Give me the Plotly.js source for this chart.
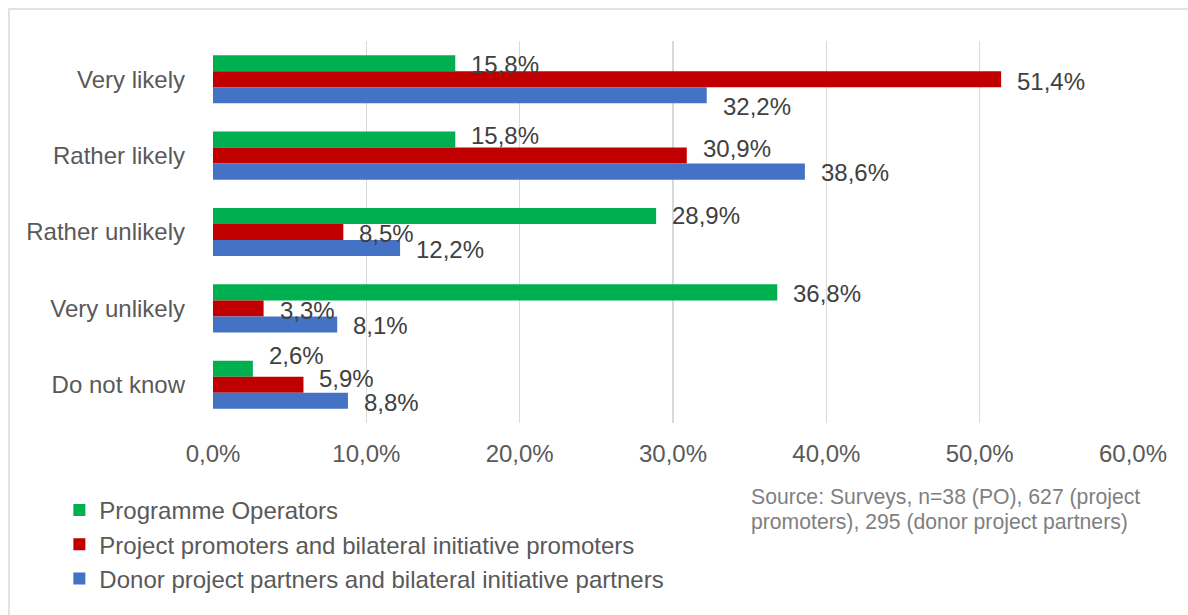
<!DOCTYPE html>
<html>
<head>
<meta charset="utf-8">
<script src="https://cdn.plot.ly/plotly-3.0.1.min.js"></script>
<style>html,body{margin:0;padding:0;background:#fff;}#chart{width:1188px;height:615px;}</style>
</head>
<body>
<div id="chart"></div>
<script>
const categories = ["Very likely", "Rather likely", "Rather unlikely", "Very unlikely", "Do not know"];
const seriesNames = [
  "Programme Operators",
  "Project promoters and bilateral initiative promoters",
  "Donor project partners and bilateral initiative partners"
];
const programmeOperators = [15.8, 15.8, 28.9, 36.8, 2.6];
const projectPromoters = [51.4, 30.9, 8.5, 3.3, 5.9];
const donorPartners = [32.2, 38.6, 12.2, 8.1, 8.8];
const xTicks = [0, 10, 20, 30, 40, 50, 60];
const xTickLabels = ["0,0%", "10,0%", "20,0%", "30,0%", "40,0%", "50,0%", "60,0%"];
const sourceLines = ["Source: Surveys, n=38 (PO), 627 (project", "promoters), 295 (donor project partners)"];

// style: colours and small vertical nudges (px, positive = down) of the value labels
const colors = ["#00b050", "#c00000", "#4472c4"];
const labelNudge = [[1, -4, 0, 1, -13], [2, -7, 1, 2, -6], [11, 1, 1, 1, 2]];
const FONT = "Liberation Sans, Arial, sans-serif";
const BARGAP = 0.37;
const seriesValues = [programmeOperators, projectPromoters, donorPartners];
const fmt = v => v.toFixed(1).replace(".", ",") + "%";

const traces = seriesValues.map((vals, i) => ({
  type: "bar",
  orientation: "h",
  name: seriesNames[i],
  y: categories,
  x: vals,
  marker: {color: colors[i]},
  hoverinfo: "skip"
}));

// value labels placed at each bar end through the axes (category index + group offset)
const nS = seriesValues.length;
const barW = (1 - BARGAP) / nS;
const valueAnnotations = [];
seriesValues.forEach((vals, i) => {
  vals.forEach((v, j) => {
    valueAnnotations.push({
      xref: "x", yref: "y",
      x: v,
      y: j + (i - (nS - 1) / 2) * barW,
      xanchor: "left", yanchor: "middle",
      xshift: 14,
      yshift: -labelNudge[i][j],
      showarrow: false,
      text: fmt(v),
      font: {family: FONT, size: 24, color: "#404040"}
    });
  });
});

const sourceAnnotations = sourceLines.map((t, k) => ({
  xref: "paper", yref: "paper",
  x: (749 - 213) / 920,
  y: (423 - (497 + 25 * k)) / 382,
  xanchor: "left", yanchor: "middle",
  align: "left",
  showarrow: false,
  text: t,
  font: {family: FONT, size: 21.2, color: "#7f7f7f"}
}));

const layout = {
  width: 1188,
  height: 615,
  margin: {l: 213, r: 55, t: 41, b: 192},
  paper_bgcolor: "#ffffff",
  plot_bgcolor: "#ffffff",
  barmode: "group",
  bargap: BARGAP,
  bargroupgap: 0,
  font: {family: FONT, size: 24, color: "#595959"},
  showlegend: true,
  legend: {
    orientation: "v",
    x: -0.167,
    xanchor: "left",
    y: -0.17,
    yanchor: "top",
    font: {family: FONT, size: 24, color: "#595959"},
    traceorder: "normal",
    itemwidth: 30,
    bgcolor: "rgba(0,0,0,0)"
  },
  xaxis: {
    range: [0, 60],
    tickmode: "array",
    tickvals: xTicks,
    ticktext: xTickLabels,
    showgrid: true,
    gridcolor: "#d9d9d9",
    gridwidth: 1.5,
    zeroline: false,
    showline: false,
    ticks: "",
    ticklabelstandoff: 14,
    tickfont: {family: FONT, size: 24, color: "#595959"},
    fixedrange: true
  },
  yaxis: {
    autorange: "reversed",
    showgrid: false,
    zeroline: false,
    showline: false,
    ticks: "",
    ticklabelstandoff: 27,
    tickfont: {family: FONT, size: 24, color: "#595959"},
    fixedrange: true
  },
  annotations: valueAnnotations.concat(sourceAnnotations),
  shapes: [{
    type: "rect",
    xref: "paper", yref: "paper",
    x0: (9 - 213) / 920, x1: 1.2,
    y0: (423 - 9) / 382, y1: -0.7,
    line: {color: "#d9d9d9", width: 1.5},
    fillcolor: "rgba(0,0,0,0)",
    layer: "below"
  }]
};

Plotly.newPlot("chart", traces, layout, {displayModeBar: false, staticPlot: true});
</script>
</body>
</html>
